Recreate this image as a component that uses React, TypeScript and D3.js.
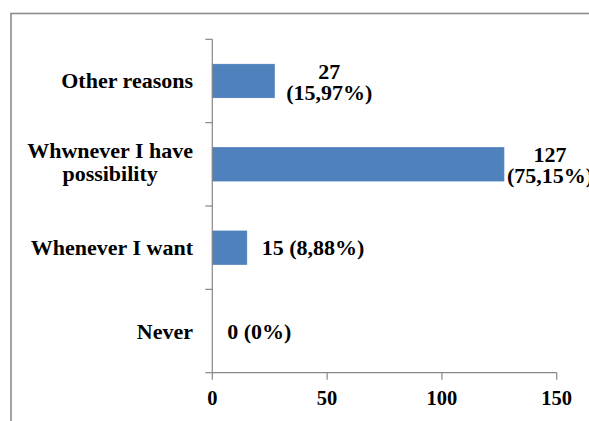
import React, { useEffect, useRef } from "react";
import * as d3 from "d3";

const categories = ["Other reasons", "Whwnever I have possibility", "Whenever I want", "Never"];
const categoryLines = [["Other reasons"], ["Whwnever I have", "possibility"], ["Whenever I want"], ["Never"]];
const values = [27, 127, 15, 0];
const percentLabels = ["15,97%", "75,15%", "8,88%", "0%"];
const labelWrap = [true, true, false, false];
const xTicks = [0, 50, 100, 150];

const W = 589;
const H = 421;
const FONT = '"Liberation Serif", "Times New Roman", Times, serif';

export default function App() {
  const ref = useRef<SVGSVGElement>(null);

  useEffect(() => {
    const svg = d3.select(ref.current);
    svg.selectAll("*").remove();

    const x = d3.scaleLinear().domain([0, 150]).range([212.3, 556.7]);
    const y = d3.scaleBand<string>().domain(categories).range([39.3, 372.7]).paddingInner(0.6).paddingOuter(0.3);
    const step = y.step();
    const axisColor = "#868686";

    // outer frame
    svg.append("rect")
      .attr("x", 11).attr("y", 13.5).attr("width", 600).attr("height", 440)
      .attr("fill", "none").attr("stroke", "#8c8c8c").attr("stroke-width", 1.6);

    // bars
    svg.selectAll("rect.bar").data(values).enter().append("rect")
      .attr("class", "bar")
      .attr("x", x(0))
      .attr("y", (_, i) => y(categories[i])!)
      .attr("width", (d) => x(d) - x(0))
      .attr("height", y.bandwidth())
      .attr("fill", "#4F81BD")
      .attr("stroke", (d) => (d > 0 ? "#4A7EBB" : "none"))
      .attr("stroke-width", 0.8);

    // y axis line and ticks
    const [y0, y1] = y.range();
    svg.append("line").attr("x1", x(0)).attr("x2", x(0)).attr("y1", y0).attr("y2", y1)
      .attr("stroke", axisColor).attr("stroke-width", 1.2);
    for (let k = 0; k <= categories.length; k++) {
      const yy = y0 + k * step;
      svg.append("line").attr("x1", x(0) - 7).attr("x2", x(0)).attr("y1", yy).attr("y2", yy)
        .attr("stroke", axisColor).attr("stroke-width", 1.2);
    }

    // x axis
    svg.append("line").attr("x1", x(0)).attr("x2", x(150)).attr("y1", y1).attr("y2", y1)
      .attr("stroke", axisColor).attr("stroke-width", 1.2);
    xTicks.forEach((t) => {
      svg.append("line").attr("x1", x(t)).attr("x2", x(t)).attr("y1", y1).attr("y2", y1 + 7)
        .attr("stroke", axisColor).attr("stroke-width", 1.2);
      svg.append("text").attr("x", x(t)).attr("y", 405)
        .attr("text-anchor", "middle")
        .style("font-family", FONT).style("font-weight", "bold").style("font-size", "20.5px")
        .attr("fill", "#000").text(String(t));
    });

    // category labels
    const catRight = 193;
    categoryLines.forEach((lines, i) => {
      const cy = y(categories[i])! + y.bandwidth() / 2;
      const lh = 23;
      const texts = lines.map((ln, j) =>
        svg.append("text")
          .style("font-family", FONT).style("font-weight", "bold").style("font-size", "22px")
          .attr("fill", "#000").attr("text-anchor", "middle")
          .attr("y", cy + 7.5 - ((lines.length - 1) * lh) / 2 + j * lh - (lines.length > 1 ? 2 : 0))
          .text(ln)
      );
      const widths = texts.map((t) => (t.node() as SVGTextElement).getComputedTextLength());
      const wmax = Math.max(...widths);
      texts.forEach((t) => t.attr("x", catRight - wmax / 2));
    });

    // data labels
    values.forEach((v, i) => {
      const cy = y(categories[i])! + y.bandwidth() / 2;
      const end = x(v);
      const lines = labelWrap[i] ? [String(v), `(${percentLabels[i]})`] : [`${v} (${percentLabels[i]})`];
      const lh = 21;
      const texts = lines.map((ln, j) =>
        svg.append("text")
          .style("font-family", FONT).style("font-weight", "bold").style("font-size", "22px")
          .attr("fill", "#000").attr("text-anchor", "middle")
          .attr("y", cy + 7.5 - ((lines.length - 1) * lh) / 2 + j * lh + (lines.length > 1 ? 1 : 0))
          .text(ln)
      );
      const widths = texts.map((t) => (t.node() as SVGTextElement).getComputedTextLength());
      const wmax = Math.max(...widths);
      const gap = lines.length > 1 ? 12 : 15;
      let cx = end + gap + wmax / 2;
      cx = Math.min(cx, 550);
      texts.forEach((t) => t.attr("x", cx));
    });
  }, []);

  return (
    <div style={{ position: "fixed", left: 0, top: 0, width: W, height: H, background: "#fff" }}>
      <svg ref={ref} width={W} height={H} style={{ display: "block" }} />
    </div>
  );
}
